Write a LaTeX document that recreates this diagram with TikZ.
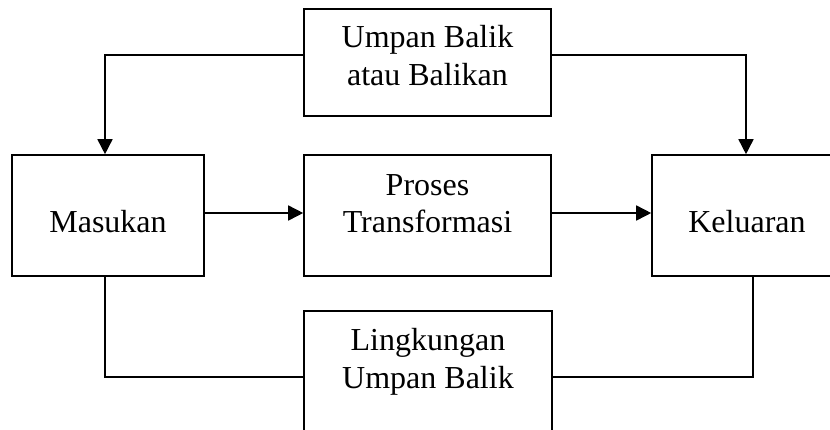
\documentclass[tikz,border=0pt]{standalone}
\usepackage{fontspec}
\setmainfont{Liberation Serif}
\usetikzlibrary{arrows.meta}
\begin{document}
\begin{tikzpicture}[x=1pt,y=-1pt,
  box/.style={draw=black, line width=1.6pt, fill=white, rectangle, inner sep=0pt},
  lbl/.style={anchor=base, inner sep=0pt, font=\fontsize{32}{38}\selectfont},
  link/.style={line width=1.6pt},
  flow/.style={link, -{Triangle[length=15pt 0 0,width=15pt 0 0]}}]
\useasboundingbox (0,0) rectangle (830,429);
\clip (0,0) rectangle (830,429);
\fill[white] (0,0) rectangle (830,429);

% levels of the horizontal connector runs
\coordinate (topline) at (0,55);
\coordinate (flowline) at (0,213);
\coordinate (botline) at (0,377);

% boxes
\node[box, minimum width=247pt, minimum height=107pt] (umpan) at (427.5,62.5) {};
\node[box, minimum width=192pt, minimum height=121pt] (masukan) at (108,215.5) {};
\node[box, minimum width=247pt, minimum height=121pt] (proses) at (427.5,215.5) {};
\node[box, minimum width=190pt, minimum height=121pt] (keluaran) at (747,215.5) {};
\node[box, minimum width=248pt, minimum height=120pt] (lingkungan) at (428,371) {};

% labels
\node[lbl] (umpanA) at (427.5,47) {Umpan Balik};
\node[lbl] (umpanB) at (427.5,85) {atau Balikan};
\node[lbl] (masukanT) at (108,232) {Masukan};
\node[lbl] (prosesA) at (427.5,195) {Proses};
\node[lbl] (prosesB) at (427.5,232) {Transformasi};
\node[lbl] (keluaranT) at (747,232) {Keluaran};
\node[lbl] (lingA) at (428,350) {Lingkungan};
\node[lbl] (lingB) at (428,388) {Umpan Balik};

% connectors
\draw[flow] (umpan.west |- topline) -| ([xshift=-3pt]masukan.north);
\draw[flow] (umpan.east |- topline) -| ([xshift=-1pt]keluaran.north);
\draw[flow] (masukan.east |- flowline) -- (proses.west |- flowline);
\draw[flow] (proses.east |- flowline) -- (keluaran.west |- flowline);
\draw[link] ([xshift=-3pt]masukan.south) |- (lingkungan.west |- botline);
\draw[link] ([xshift=6pt]keluaran.south) |- (lingkungan.east |- botline);
\end{tikzpicture}
\end{document}
